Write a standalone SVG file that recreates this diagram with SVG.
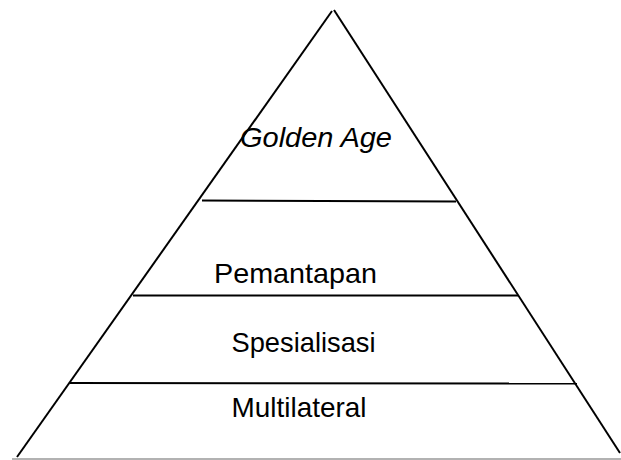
<svg xmlns="http://www.w3.org/2000/svg" width="621" height="460" viewBox="0 0 621 460">
<style>
.ln{stroke:#000;stroke-width:2;fill:none}
.t{font-family:"Liberation Sans",Arial,sans-serif;font-size:28px;fill:#000}
</style>
<rect width="621" height="460" fill="#fff"/>
<g id="pyramid">
<line class="ln" x1="332" y1="11" x2="17" y2="457"/>
<line class="ln" x1="334" y1="10" x2="620" y2="453"/>
<line x1="12" y1="459" x2="621" y2="459" stroke="#999" stroke-width="1.5"/>
<line class="ln" x1="202" y1="200.5" x2="456" y2="201.5"/>
<line class="ln" x1="133" y1="295.5" x2="518" y2="295.5"/>
<line class="ln" x1="70" y1="383" x2="577" y2="383.5"/>
</g>
<g id="golden-age"><text class="t" x="240" y="146.5" font-style="italic" textLength="152" lengthAdjust="spacingAndGlyphs">Golden Age</text></g>
<g id="pemantapan"><text class="t" x="214" y="283" textLength="163" lengthAdjust="spacingAndGlyphs">Pemantapan</text></g>
<g id="spesialisasi"><text class="t" x="231.5" y="352" textLength="144" lengthAdjust="spacingAndGlyphs">Spesialisasi</text></g>
<g id="multilateral"><text class="t" x="231.5" y="417" textLength="135" lengthAdjust="spacingAndGlyphs">Multilateral</text></g>
</svg>
